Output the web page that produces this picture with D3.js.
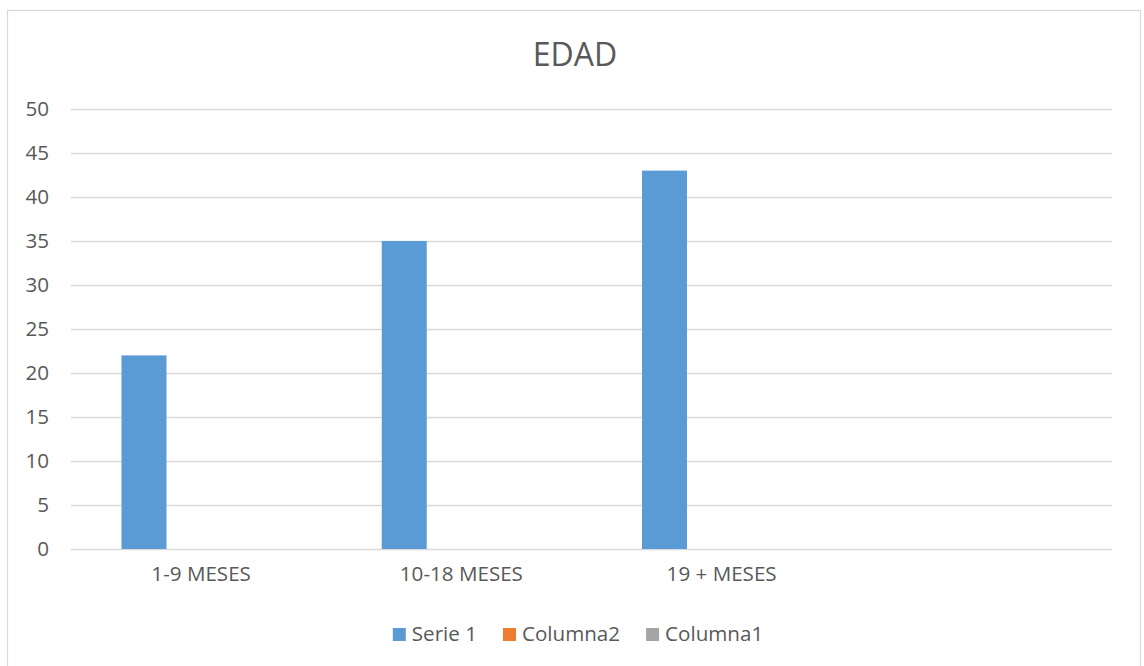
<!DOCTYPE html>
<html>
<head>
<meta charset="utf-8">
<script src="https://cdn.jsdelivr.net/npm/d3@7"></script>
<style>
  html, body { margin: 0; padding: 0; background: #fff; }
  svg { display: block; font-family: "Open Sans", sans-serif; }
</style>
</head>
<body>
<svg id="chart" width="1144" height="666"></svg>
<script>
const title = "EDAD";
const categories = ["1-9 MESES", "10-18 MESES", "19 + MESES", ""];
const seriesNames = ["Serie 1", "Columna2", "Columna1"];
const serie1 = [22, 35, 43, null];
const columna2 = [null, null, null, null];
const columna1 = [null, null, null, null];
const seriesValues = [serie1, columna2, columna1];
const seriesColors = ["#5B9BD5", "#ED7D31", "#A5A5A5"];
const yTicks = [0, 5, 10, 15, 20, 25, 30, 35, 40, 45, 50];

const svg = d3.select("#chart");
const textColor = "#595959";
const gridColor = "#D9D9D9";
const fs = "20.6px";

// chart border
svg.append("rect")
  .attr("x", 7.5).attr("y", 10.5)
  .attr("width", 1133).attr("height", 680)
  .attr("fill", "#fff").attr("stroke", gridColor).attr("stroke-width", 1.2);

const plot = { left: 71, right: 1112, top: 109, bottom: 549 };

const y = d3.scaleLinear().domain([0, 50]).range([plot.bottom, plot.top]);
const x0 = d3.scaleBand().domain(categories.map((c, i) => i)).range([plot.left, plot.right]).padding(0);
const x1 = d3.scaleBand().domain(seriesNames).range([50.5, 185.5]).padding(0);

// gridlines + y labels via axis
const yAxis = d3.axisLeft(y).tickValues(yTicks).tickSize(-(plot.right - plot.left)).tickPadding(22);
const gy = svg.append("g").attr("transform", `translate(${plot.left},0)`).call(yAxis);
gy.select(".domain").remove();
gy.selectAll(".tick line").attr("stroke", gridColor).attr("stroke-width", 1.3);
gy.selectAll(".tick text")
  .attr("fill", textColor)
  .style("font-size", fs)
  .style("font-family", "'Open Sans', sans-serif");

// bars
const data = [];
seriesNames.forEach((s, si) => {
  categories.forEach((c, ci) => {
    const v = seriesValues[si][ci];
    if (v != null) data.push({ s, si, ci, v });
  });
});
svg.append("g").selectAll("rect").data(data).join("rect")
  .attr("x", d => x0(d.ci) + x1(d.s))
  .attr("width", x1.bandwidth())
  .attr("y", d => y(d.v))
  .attr("height", d => y(0) - y(d.v))
  .attr("fill", d => seriesColors[d.si]);

// x axis labels
const xAxis = d3.axisBottom(x0).tickFormat(i => categories[i]).tickSize(0).tickPadding(17);
const gx = svg.append("g").attr("transform", `translate(0,${plot.bottom})`).call(xAxis);
gx.select(".domain").remove();
gx.selectAll(".tick text")
  .attr("fill", textColor)
  .style("font-size", fs)
  .style("font-family", "'Open Sans', sans-serif");

// title
svg.append("text")
  .attr("x", 575).attr("y", 66)
  .attr("text-anchor", "middle")
  .attr("fill", textColor)
  .style("font-size", "32px")
  .text(title);

// legend
const legend = svg.append("g");
let lx = 0;
seriesNames.forEach((s, i) => {
  const g = legend.append("g");
  g.append("rect").attr("x", 0).attr("y", -12).attr("width", 13).attr("height", 13).attr("fill", seriesColors[i]);
  const t = g.append("text").attr("x", 19).attr("y", 0).attr("dy", "0.05em")
    .attr("fill", textColor).style("font-size", fs).text(s);
  const w = 19 + t.node().getComputedTextLength();
  g.attr("transform", `translate(${lx},0)`);
  lx += w + 26;
});
const totalW = lx - 26;
legend.attr("transform", `translate(${578 - totalW / 2},640)`);
</script>
</body>
</html>
